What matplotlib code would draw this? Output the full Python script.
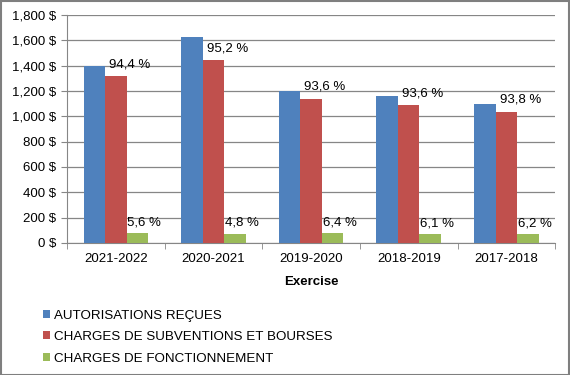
import matplotlib.pyplot as plt
import matplotlib.ticker as mticker
import numpy as np

plt.rcParams['font.family'] = ['Liberation Sans', 'DejaVu Sans']

# données
exercices = ['2021-2022', '2020-2021', '2019-2020', '2018-2019', '2017-2018']
autorisations = [1397, 1626, 1202, 1160, 1097]
subventions = [1318, 1442, 1137, 1087, 1037]
fonctionnement = [78, 73, 78, 71, 69]
pct_subv = ['94,4 %', '95,2 %', '93,6 %', '93,6 %', '93,8 %']
pct_fonc = ['5,6 %', '4,8 %', '6,4 %', '6,1 %', '6,2 %']

fig = plt.figure(figsize=(5.7, 3.75), dpi=100)
ax = fig.add_axes([0.1175, 0.352, 0.8565, 0.608])

x = np.arange(len(exercices))
w = 0.22
ax.bar(x - w, autorisations, w, color='#4F81BD', label='AUTORISATIONS REÇUES', zorder=3)
ax.bar(x, subventions, w, color='#C0504D', label='CHARGES DE SUBVENTIONS ET BOURSES', zorder=3)
ax.bar(x + w, fonctionnement, w, color='#9BBB59', label='CHARGES DE FONCTIONNEMENT', zorder=3)

for i in range(len(exercices)):
    ax.annotate(pct_subv[i], (x[i], subventions[i]), xytext=(14, 12),
                textcoords='offset pixels', ha='center', va='center', fontsize=9.5)
    ax.annotate(pct_fonc[i], (x[i] + w, fonctionnement[i]), xytext=(7, 11),
                textcoords='offset pixels', ha='center', va='center', fontsize=9.5)

ax.set_ylim(0, 1800)
ax.set_xlim(-0.5, len(exercices) - 0.5)
ax.yaxis.set_major_locator(mticker.MultipleLocator(200))
ax.yaxis.set_major_formatter(mticker.FuncFormatter(lambda v, p: '{:,.0f} $'.format(v)))
ax.grid(axis='y', color='#868686', linewidth=0.9, zorder=0)

ax.set_xticks(x)
ax.set_xticklabels(exercices)
ax.set_xticks(np.arange(-0.5, len(exercices)), minor=True)
ax.tick_params(axis='x', which='major', length=0, labelsize=9.5, pad=7)
ax.tick_params(axis='x', which='minor', length=4, color='#868686')
ax.tick_params(axis='y', length=4, color='#868686', labelsize=9.5)

for s in ['top', 'right']:
    ax.spines[s].set_visible(False)
ax.spines['left'].set_color('#868686')
ax.spines['bottom'].set_color('#868686')

ax.set_xlabel('Exercise', fontweight='bold', fontsize=9.5, labelpad=8)

fig.legend(loc='upper left', bbox_to_anchor=(0.066, 0.188), frameon=False,
           fontsize=9.6, handlelength=0.55, handleheight=0.55, handletextpad=0.3,
           labelspacing=0.7, borderaxespad=0)

fig.patches.append(plt.Rectangle((0.001, 0.001), 0.997, 0.997, transform=fig.transFigure,
                                 fill=False, edgecolor='#7F7F7F', linewidth=1.5))

fig.savefig('out.png', dpi=100)
